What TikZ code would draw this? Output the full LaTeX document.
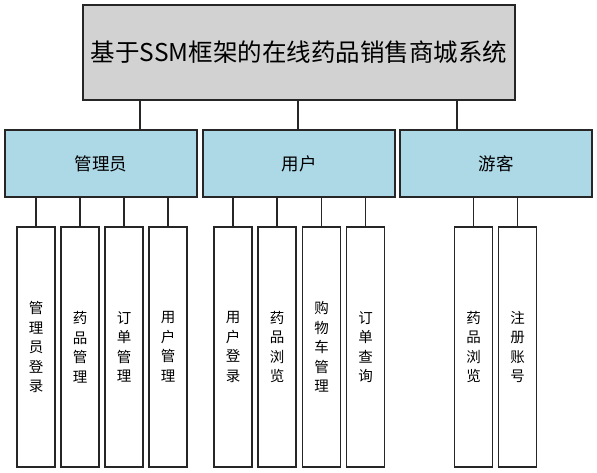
\documentclass[tikz,border=0pt]{standalone}
\usepackage{fontspec}
\setmainfont{Noto Sans CJK SC}
\begin{document}
\begin{tikzpicture}[x=1pt,y=-1pt,
  box/.style={draw=black!85,line width=1.5pt,inner sep=0pt,anchor=center},
  topbox/.style={box,fill=gray!35!white,minimum width=432pt,minimum height=95pt,font=\fontsize{24.5}{28}\selectfont},
  midbox/.style={box,fill={rgb,255:red,173;green,216;blue,230},minimum width=192pt,minimum height=67pt,font=\fontsize{17.5}{20}\selectfont},
  leafbox/.style={box,fill=white,minimum width=38pt,minimum height=240pt,align=center,font=\fontsize{14.5}{19.5}\selectfont},
  link/.style={draw=black!85,line width=1.5pt}]
\useasboundingbox (0,0) rectangle (597,473);
\node[topbox] (top) at (299,52.5) {基于SSM框架的在线药品销售商城系统};
\node[midbox] (m1) at (101,163.5) {管理员};
\node[midbox] (m2) at (299,163.5) {用户};
\node[midbox] (m3) at (496,163.5) {游客};
\coordinate (c1) at (140,130);
\coordinate (c2) at (298,130);
\coordinate (c3) at (457,130);
\foreach \c in {c1,c2,c3} \draw[link] (\c) -- (\c |- top.south);
\node[leafbox] (l1) at (36,347) {管\\理\\员\\登\\录};
\node[leafbox] (l2) at (80,347) {药\\品\\管\\理};
\node[leafbox] (l3) at (124,347) {订\\单\\管\\理};
\node[leafbox] (l4) at (168,347) {用\\户\\管\\理};
\node[leafbox] (l5) at (233,347) {用\\户\\登\\录};
\node[leafbox] (l6) at (277,347) {药\\品\\浏\\览};
\node[leafbox] (l7) at (321.5,347) {购\\物\\车\\管\\理};
\node[leafbox] (l8) at (365.5,347) {订\\单\\查\\询};
\node[leafbox] (l9) at (473.5,347) {药\\品\\浏\\览};
\node[leafbox] (l10) at (517.5,347) {注\\册\\账\\号};
\foreach \l in {l1,l2,l3,l4} \draw[link] (\l.north) -- (\l.north |- m1.south);
\foreach \l in {l5,l6,l7,l8} \draw[link] (\l.north) -- (\l.north |- m2.south);
\foreach \l in {l9,l10} \draw[link] (\l.north) -- (\l.north |- m3.south);
\end{tikzpicture}
\end{document}
